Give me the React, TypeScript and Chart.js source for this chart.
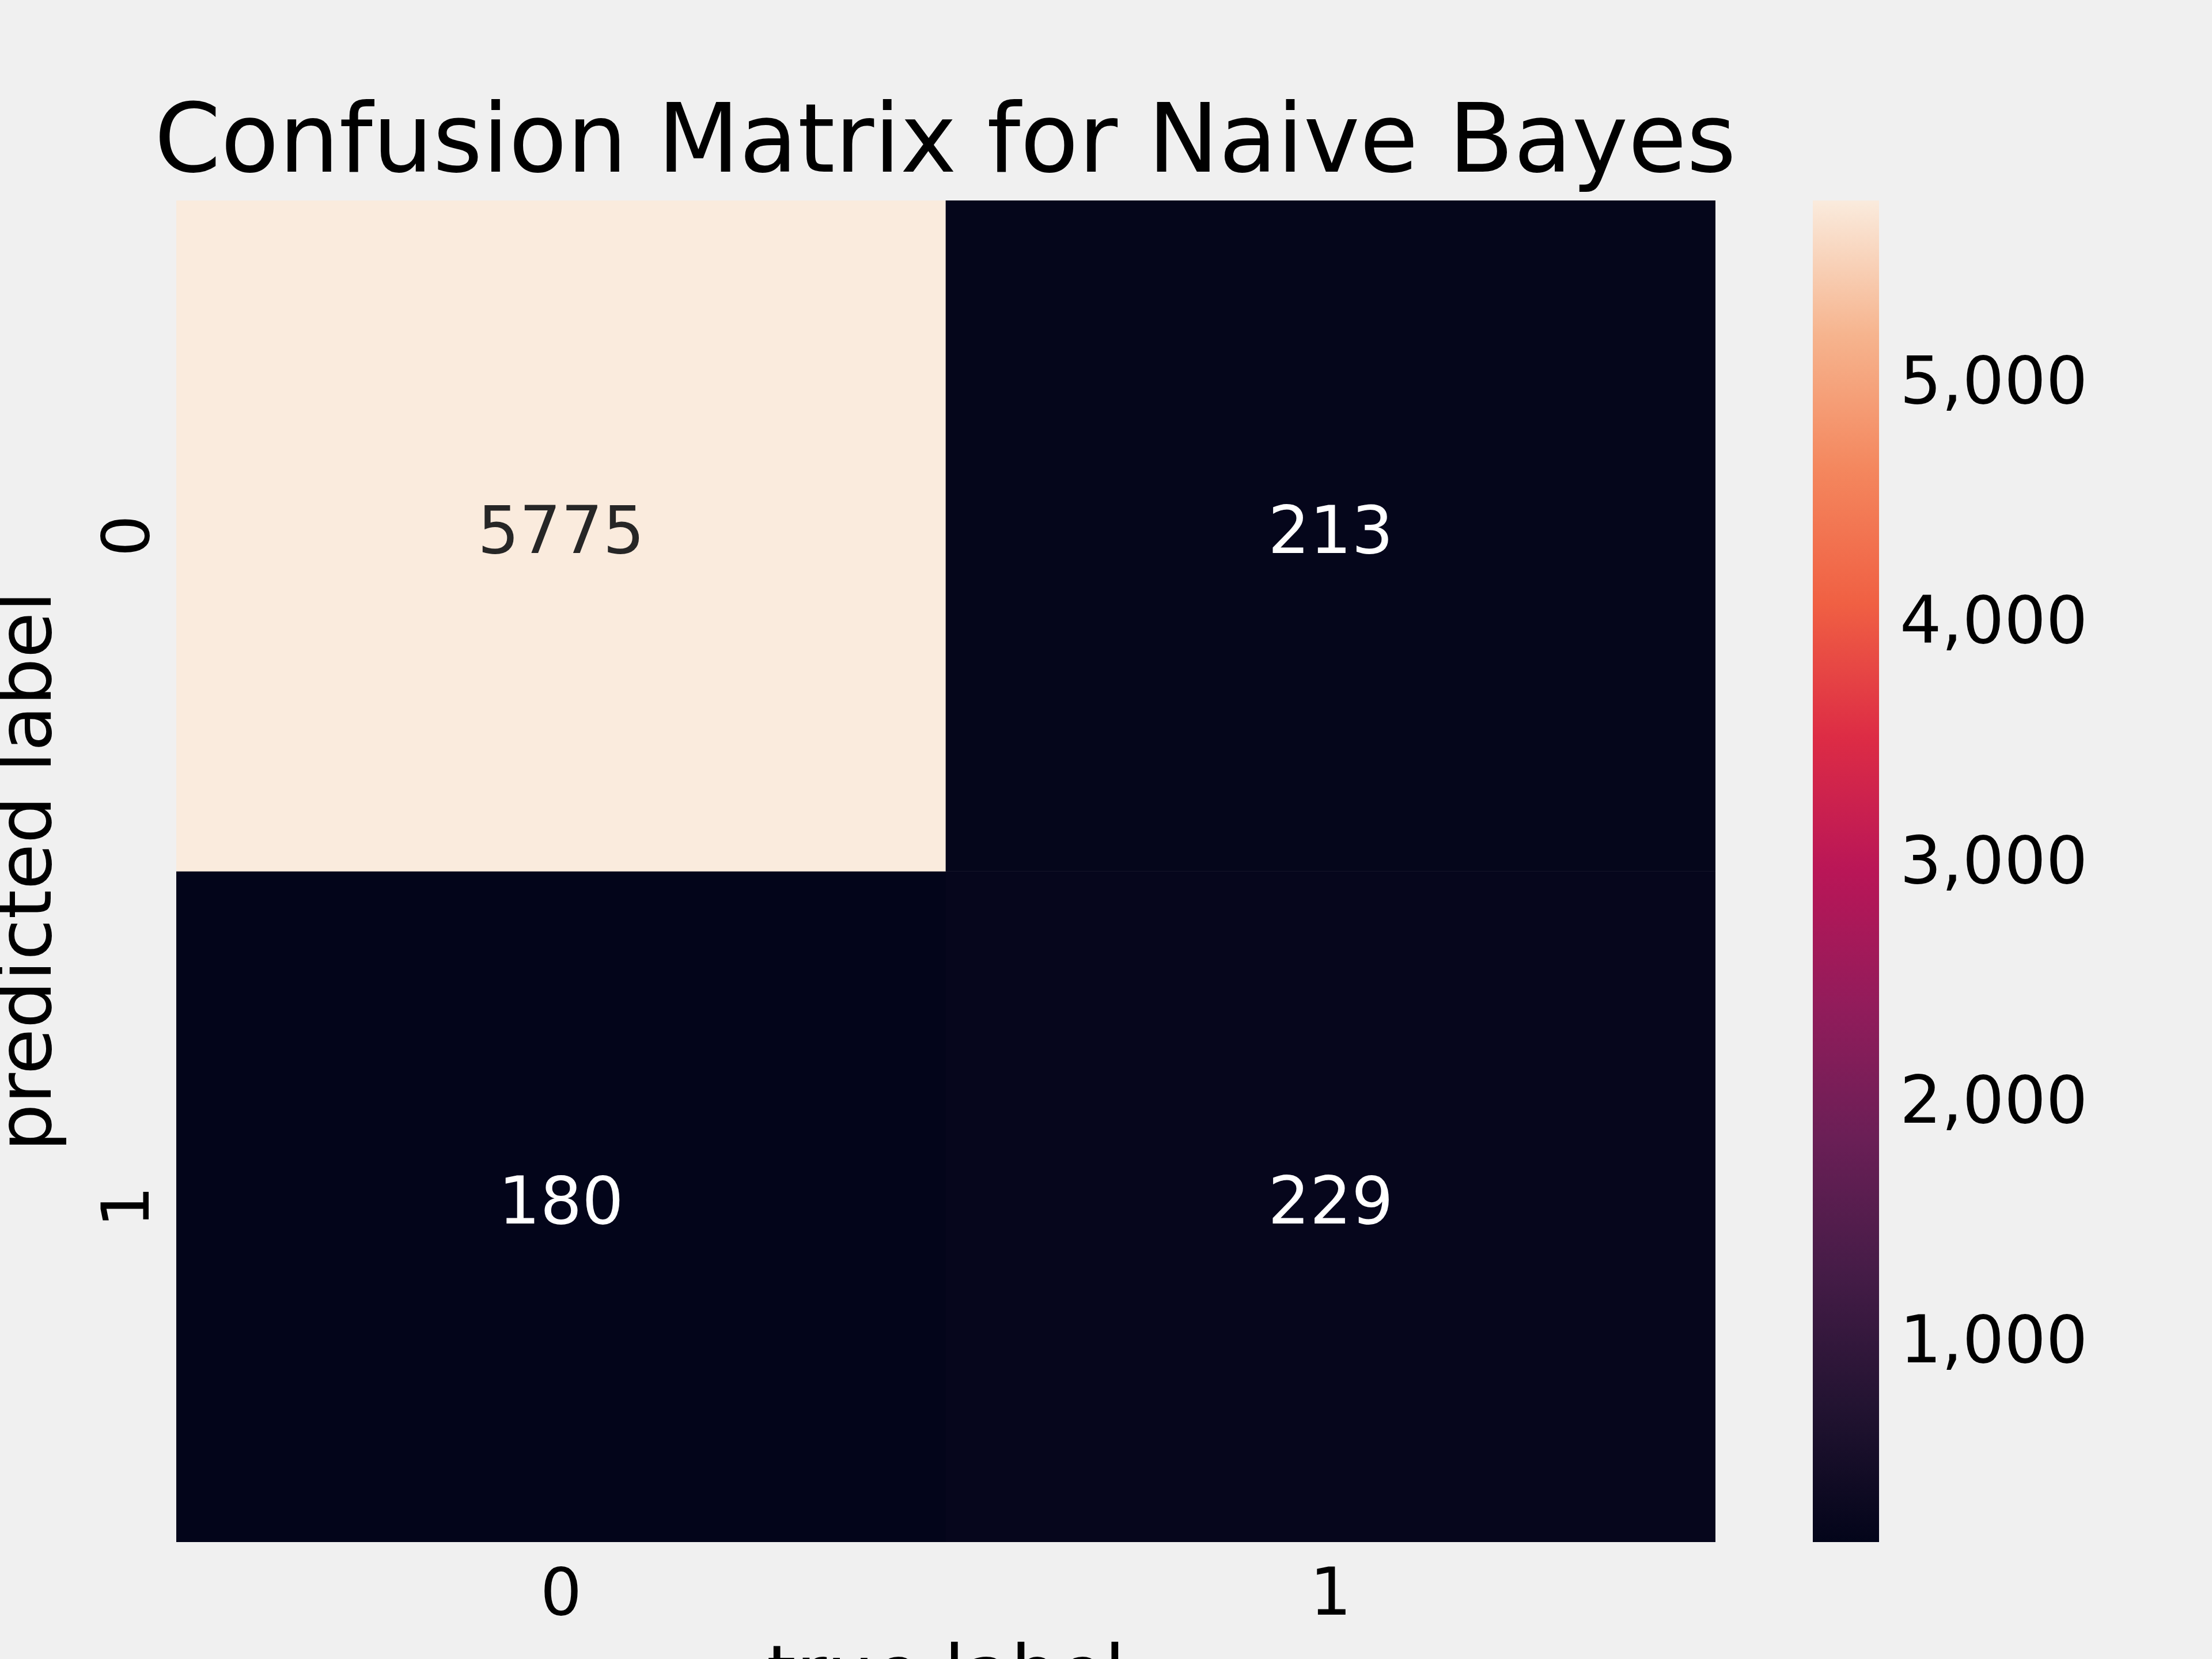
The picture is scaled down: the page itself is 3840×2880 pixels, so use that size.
import { useEffect, useRef } from 'react';
import { Chart, registerables } from 'chart.js';

Chart.register(...registerables);

const trueLabels = ['0', '1'];
const predictedLabels = ['0', '1'];
// rows = predicted label, columns = true label
const row0 = [5775, 213];
const row1 = [180, 229];
const colorbarTicks = [1000, 2000, 3000, 4000, 5000];

const FONT = '"DejaVu Sans", sans-serif';
const BG = '#f0f0f0';

// rocket colormap stops
const rocket = ['#03051a', '#221331', '#451c47', '#6a1f56', '#921c5b', '#b91657', '#dd2c45', '#f06043', '#f4875e', '#f6b48e', '#faebdd'];

const vMin = Math.min(...row0, ...row1);
const vMax = Math.max(...row0, ...row1);

function hexToRgb(h: string) {
  return [1, 3, 5].map(i => parseInt(h.slice(i, i + 2), 16));
}

function colorFor(v: number) {
  const t = Math.max(0, Math.min(1, (v - vMin) / (vMax - vMin))) * (rocket.length - 1);
  const i = Math.min(Math.floor(t), rocket.length - 2);
  const f = t - i;
  const a = hexToRgb(rocket[i]);
  const b = hexToRgb(rocket[i + 1]);
  const c = a.map((x, k) => Math.round(x + (b[k] - x) * f));
  return `rgb(${c[0]},${c[1]},${c[2]})`;
}

export default function App() {
  const mainRef = useRef<HTMLCanvasElement>(null);
  const barRef = useRef<HTMLCanvasElement>(null);

  useEffect(() => {
    document.body.style.margin = '0';
    if (!mainRef.current || !barRef.current) return;

    const textPlugin = {
      id: 'texts',
      afterDraw(chart: any) {
        const ctx = chart.ctx;
        const x = chart.scales.x;
        const y = chart.scales.y;
        ctx.save();
        // annotations
        ctx.font = `114px ${FONT}`;
        ctx.textAlign = 'center';
        ctx.textBaseline = 'middle';
        [row0, row1].forEach((row, r) => {
          row.forEach((v, c) => {
            ctx.fillStyle = (v - vMin) / (vMax - vMin) > 0.5 ? '#262626' : '#ffffff';
            ctx.fillText(String(v), x.getPixelForValue(c), y.getPixelForValue(r + 0.5));
          });
        });
        // y tick labels, rotated
        ctx.fillStyle = '#000';
        predictedLabels.forEach((l, r) => {
          ctx.save();
          ctx.translate(228, y.getPixelForValue(r + 0.5));
          ctx.rotate(-Math.PI / 2);
          ctx.fillText(l, 0, 0);
          ctx.restore();
        });
        // title
        ctx.font = `165px ${FONT}`;
        ctx.textBaseline = 'alphabetic';
        ctx.fillText('Confusion Matrix for Naive Bayes', 1641, 298);
        // axis titles
        ctx.font = `130px ${FONT}`;
        ctx.textBaseline = 'top';
        ctx.fillText('true label', (chart.chartArea.left + chart.chartArea.right) / 2, 2850);
        ctx.save();
        ctx.translate(54, (chart.chartArea.top + chart.chartArea.bottom) / 2);
        ctx.rotate(-Math.PI / 2);
        ctx.textBaseline = 'middle';
        ctx.fillText('predicted label', 0, 0);
        ctx.restore();
        ctx.restore();
      },
    };

    const main = new Chart(mainRef.current, {
      type: 'bar',
      data: {
        labels: trueLabels,
        datasets: [row0, row1].map((row, r) => ({
          label: predictedLabels[r],
          data: row.map(() => 1),
          backgroundColor: row.map(colorFor),
          borderWidth: 0,
          barPercentage: 1,
          categoryPercentage: 1,
        })),
      },
      options: {
        responsive: false,
        animation: false,
        layout: { padding: { left: 0, right: 862, top: 348, bottom: 0 } },
        plugins: { legend: { display: false }, tooltip: { enabled: false } },
        scales: {
          x: {
            stacked: true,
            grid: { display: false },
            border: { display: false },
            ticks: { color: '#000', font: { family: FONT, size: 114 }, padding: 20 },
            afterFit: (s: any) => { s.height = 203; },
          },
          y: {
            stacked: true,
            reverse: true,
            min: 0,
            max: 2,
            grid: { display: false },
            border: { display: false },
            ticks: { display: false },
            afterFit: (s: any) => { s.width = 306; },
          },
        },
      },
      plugins: [textPlugin],
    } as any);

    const bar = new Chart(barRef.current, {
      type: 'bar',
      data: {
        labels: [''],
        datasets: [{
          data: [[vMin, vMax]],
          borderWidth: 0,
          barPercentage: 1,
          categoryPercentage: 1,
          backgroundColor: (ctx: any) => {
            const area = ctx.chart.chartArea;
            if (!area) return rocket[0];
            const g = ctx.chart.ctx.createLinearGradient(0, area.bottom, 0, area.top);
            rocket.forEach((c, i) => g.addColorStop(i / (rocket.length - 1), c));
            return g;
          },
        }],
      },
      options: {
        responsive: false,
        animation: false,
        layout: { padding: { left: 0, right: 0, top: 348, bottom: 203 } },
        plugins: { legend: { display: false }, tooltip: { enabled: false } },
        scales: {
          x: { display: false },
          y: {
            position: 'right',
            min: vMin,
            max: vMax,
            grid: { display: false },
            border: { display: false },
            afterBuildTicks: (s: any) => { s.ticks = colorbarTicks.map(v => ({ value: v })); },
            ticks: { color: '#000', font: { family: FONT, size: 114 }, padding: 28 },
            afterFit: (s: any) => { s.width = 485; },
          },
        },
      },
    } as any);

    return () => {
      main.destroy();
      bar.destroy();
    };
  }, []);

  return (
    <div style={{ position: 'relative', width: 3840, height: 2880, overflow: 'hidden', background: BG }}>
      <canvas ref={mainRef} width={3840} height={2880} style={{ position: 'absolute', left: 0, top: 0 }} />
      <canvas ref={barRef} width={600} height={2880} style={{ position: 'absolute', left: 3147, top: 0 }} />
    </div>
  );
}
